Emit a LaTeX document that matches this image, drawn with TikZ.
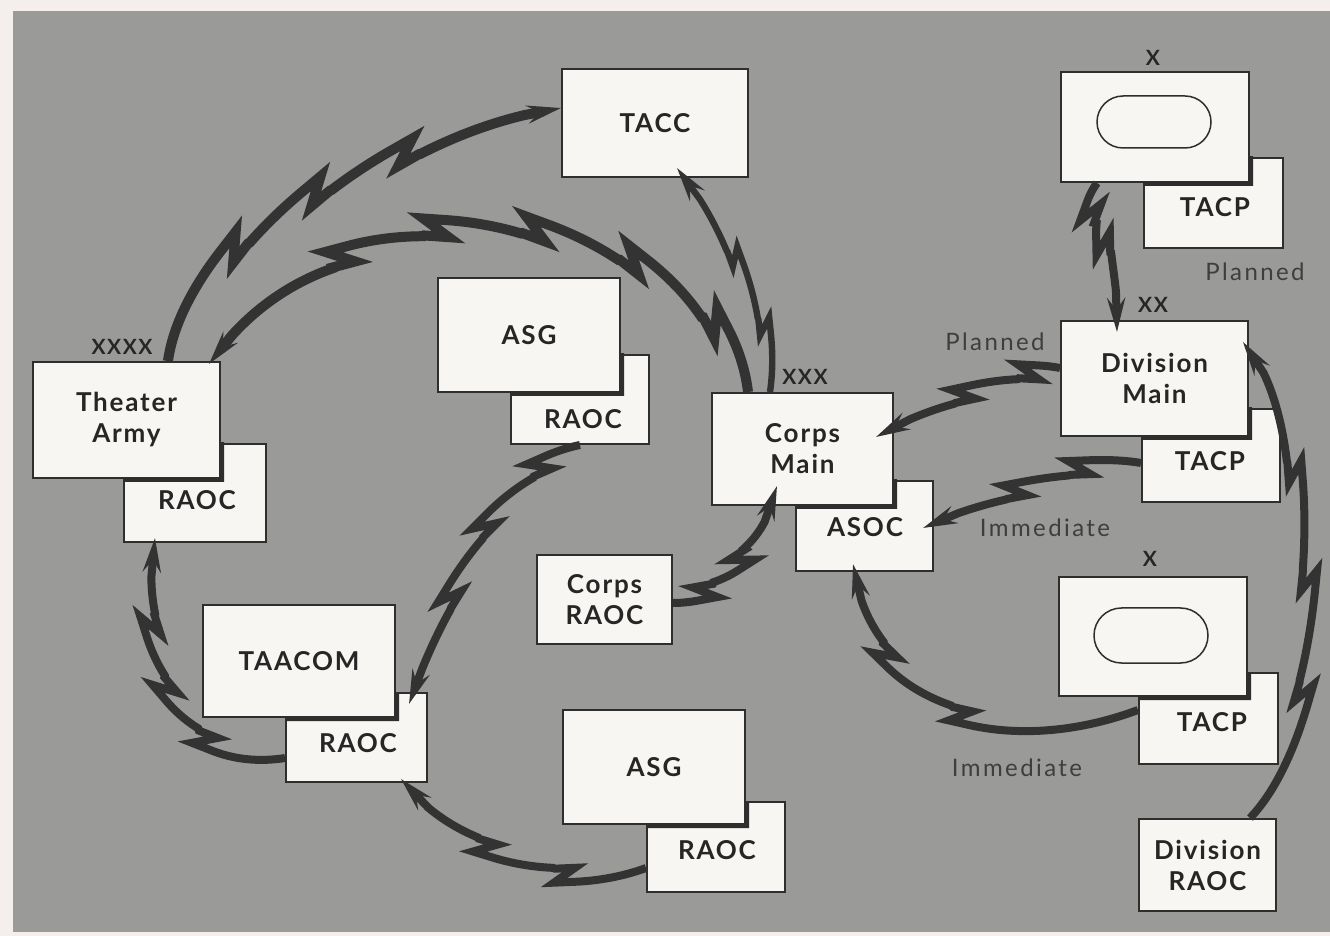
\documentclass[tikz,border=0pt]{standalone}
\usepackage{fontspec}
\setmainfont{Lato}
\newfontfamily\boxfont{Lato}[LetterSpace=7]
\newfontfamily\notefont{Lato}[LetterSpace=10]
\usetikzlibrary{decorations,arrows.meta,calc,shapes.misc}

\definecolor{outer}{HTML}{F4EFEC}
\definecolor{field}{HTML}{9A9A98}
\definecolor{boxfill}{HTML}{F8F6F2}
\definecolor{boxline}{HTML}{2E2E2E}
\definecolor{wire}{HTML}{333333}
\definecolor{ink}{HTML}{262626}
\definecolor{soft}{HTML}{3E3E3E}

% Lightning link: the stroke follows the curve at a lateral offset that
% jumps by \boltO at each break (toward the inside of the bend, side=+1 is
% to the left) and drifts back slowly, so it starts and ends on the curve.
\def\boltA{10pt}\def\boltO{7pt}
\def\boltside{1}\def\boltbreaks{2}\def\boltfirst{0.33}\def\boltgap{0.33}
\def\boltthr#1{((\boltbreaks>#1-0.5) ? (\pgfdecoratedpathlength*(1-\boltfirst-(#1-1)*\boltgap)+\boltA) : (-1pt))}
\def\boltoff#1#2{(\boltside)*\boltO*((#1)-\boltbreaks*(#2)/\pgfdecoratedpathlength)}
\def\boltwalk#1{\pgfpathlineto{\pgfpoint{1pt}{\boltoff{#1}{\pgfdecoratedcompleteddistance+1pt}}}}
\def\boltzig#1{%
  \pgfpathlineto{\pgfpoint{\boltA}{\boltoff{#1}{\pgfdecoratedcompleteddistance+\boltA}}}%
  \pgfpathlineto{\pgfpoint{0pt}{\boltoff{#1+1}{\pgfdecoratedcompleteddistance}}}%
  \pgfpathlineto{\pgfpoint{\boltA}{\boltoff{#1+1}{\pgfdecoratedcompleteddistance+\boltA}}}}

\pgfdeclaredecoration{bolt}{w1}{%
  \state{w1}[switch if less than=20pt to tail, switch if less than=(\boltthr{1}) to z1, width=1pt, next state=w1]{\boltwalk{0}}
  \state{z1}[width=\boltA, next state=w2]{\boltzig{0}}
  \state{w2}[switch if less than=20pt to tail, switch if less than=(\boltthr{2}) to z2, width=1pt, next state=w2]{\boltwalk{1}}
  \state{z2}[width=\boltA, next state=w3]{\boltzig{1}}
  \state{w3}[switch if less than=20pt to tail, switch if less than=(\boltthr{3}) to z3, width=1pt, next state=w3]{\boltwalk{2}}
  \state{z3}[width=\boltA, next state=w4]{\boltzig{2}}
  \state{w4}[switch if less than=20pt to tail, switch if less than=(\boltthr{4}) to z4, width=1pt, next state=w4]{\boltwalk{3}}
  \state{z4}[width=\boltA, next state=w5]{\boltzig{3}}
  \state{w5}[switch if less than=20pt to tail, switch if less than=(\boltthr{5}) to z5, width=1pt, next state=w5]{\boltwalk{4}}
  \state{z5}[width=\boltA, next state=w6]{\boltzig{4}}
  \state{w6}[switch if less than=20pt to tail, width=1pt, next state=w6]{\boltwalk{5}}
  \state{tail}[width=1000pt]{}
  \state{final}{\pgfpathlineto{\pgfpointdecoratedpathlast}}
}

\newcommand\overlapshadow[2]{%
  \begin{scope}
    \clip (#2.south west) rectangle (#2.north east);
    \fill[boxline, even odd rule]
      ([shift={(1.5pt,-1.5pt)}]#1.south west) rectangle ([shift={(1.5pt,-1.5pt)}]#1.north east)
      (#1.south west) rectangle (#1.north east);
  \end{scope}}

\tikzset{
  box/.style={draw=boxline, fill=boxfill, line width=1pt, inner sep=0pt, align=center,
    text=ink, font=\boxfont\bfseries\fontsize{13pt}{15.5pt}\selectfont},
  txt/.style={inner sep=0pt, align=center, text=ink, font=\boxfont\bfseries\fontsize{13pt}{15.5pt}\selectfont},
  ech/.style={inner sep=0pt, text=ink, font=\boxfont\bfseries\fontsize{10.5pt}{12pt}\selectfont},
  note/.style={inner sep=0pt, text=soft, font=\notefont\fontsize{12pt}{15pt}\selectfont},
  oval/.style={draw=boxline, line width=0.75pt, rounded rectangle, inner sep=0pt, minimum width=57pt, minimum height=26pt},
  radio/.style={draw=wire, line width=4pt, line join=miter, miter limit=8,
    decorate, decoration=bolt, -{Stealth[length=17pt,width=9pt,inset=6pt]}},
  heavy/.style={line width=5pt, zig={12pt}{8.5pt}},
  light/.style={line width=3.2pt, zig={8pt}{5.5pt}},
  zig/.code 2 args={\def\boltA{#1}\def\boltO{#2}},
  breaks/.code n args={3}{\def\boltbreaks{#1}\def\boltfirst{#2}\def\boltgap{#3}},
  lbend/.code={\def\boltside{1}},
  rbend/.code={\def\boltside{-1}},
}

\begin{document}
\begin{tikzpicture}[x=0.5pt, y=-0.5pt]
% sheet and grey field
\fill[outer] (0,0) rectangle (1330,936);
\fill[field] (13,11) rectangle (1330,932);
\useasboundingbox (0,0) rectangle (1330,936);

% TACC
\node[box, minimum width=93pt, minimum height=54pt] (tacc) at (655,123) {TACC};

% Theater Army with its RAOC
\node[box, minimum width=71pt, minimum height=49pt] (taraoc) at (195,493) {};
\node[box, minimum width=93.5pt, minimum height=58pt] (ta) at (126.5,420) {Theater\\Army};
\overlapshadow{ta}{taraoc}
\node[txt] (taraoct) at (197,500) {RAOC};
\node[ech] (e4) at (122,347) {XXXX};

% ASG (upper) with its RAOC
\node[box, minimum width=69pt, minimum height=44.5pt] (asgraoc) at (580,399.5) {};
\node[box, minimum width=91pt, minimum height=57pt] (asg) at (529,335) {ASG};
\overlapshadow{asg}{asgraoc}
\node[txt] (asgraoct) at (583,419) {RAOC};

% Corps RAOC
\node[box, minimum width=67.5pt, minimum height=44.5pt] (craoc) at (604.5,599.5) {Corps\\RAOC};

% Corps Main with ASOC
\node[box, minimum width=68.5pt, minimum height=45pt] (asoc) at (864.5,526) {};
\node[box, minimum width=90.5pt, minimum height=56pt] (cm) at (802.5,449) {Corps\\Main};
\overlapshadow{cm}{asoc}
\node[txt] (asoct) at (865,527) {ASOC};
\node[ech] (e3) at (805,377) {XXX};

% Division Main with TACP
\node[box, minimum width=69pt, minimum height=46.5pt] (dmtacp) at (1211,455.5) {};
\node[box, minimum width=93.5pt, minimum height=57.5pt] (dm) at (1154.5,378.5) {Division\\Main};
\overlapshadow{dm}{dmtacp}
\node[txt] (dmtacpt) at (1210,461) {TACP};
\node[ech] (e2) at (1153,305) {XX};

% upper brigade with TACP
\node[box, minimum width=69.5pt, minimum height=45pt] (x1tacp) at (1213.5,203) {};
\node[box, minimum width=94pt, minimum height=55pt] (x1) at (1155,127) {};
\overlapshadow{x1}{x1tacp}
\node[oval] (x1o) at (1154,122) {};
\node[txt] (x1tacpt) at (1215,207) {TACP};
\node[ech] (e1a) at (1153,58) {X};

% lower brigade with TACP
\node[box, minimum width=69.5pt, minimum height=45.5pt] (x2tacp) at (1208.5,718.5) {};
\node[box, minimum width=94pt, minimum height=59.5pt] (x2) at (1153,636.5) {};
\overlapshadow{x2}{x2tacp}
\node[oval, minimum height=27.5pt] (x2o) at (1151,635.5) {};
\node[txt] (x2tacpt) at (1212,722) {TACP};
\node[ech] (e1b) at (1150,559) {X};

% Division RAOC
\node[box, minimum width=68.5pt, minimum height=46pt] (draoc) at (1207.5,865) {Division\\RAOC};

% TAACOM with its RAOC
\node[box, minimum width=70.5pt, minimum height=44.5pt] (taacomraoc) at (356.5,737.5) {};
\node[box, minimum width=96pt, minimum height=56pt] (taacom) at (299,661) {TAACOM};
\overlapshadow{taacom}{taacomraoc}
\node[txt] (taacomraoct) at (358,743) {RAOC};

% ASG (lower) with its RAOC
\node[box, minimum width=69pt, minimum height=45pt] (asg2raoc) at (716,847) {};
\node[box, minimum width=91pt, minimum height=57pt] (asg2) at (654,767) {ASG};
\overlapshadow{asg2}{asg2raoc}
\node[txt] (asg2raoct) at (717,850) {RAOC};

% precedence notes
\node[note] (pl1) at (995,342) {Planned};
\node[note] (pl2) at (1255,272) {Planned};
\node[note] (im1) at (1045,528) {Immediate};
\node[note] (im2) at (1017,768) {Immediate};

% radio links
\draw[radio, heavy, rbend, breaks={3}{0.29}{0.2}] ([xshift=20.75pt]ta.north) .. controls (195,250) and (380,115) .. ([yshift=7.5pt]tacc.west);
\draw[radio, heavy, lbend, breaks={5}{0.13}{0.155}] ([xshift=-27.25pt]cm.north) .. controls (700,200) and (330,130) .. ([shift={(-6pt,-1.5pt)}]ta.north east);
\draw[radio, light, lbend, breaks={2}{0.29}{0.31}] ([xshift=-16.25pt]cm.north) .. controls (775,300) and (720,210) .. ([shift={(11pt,5pt)}]tacc.south);
\draw[radio, lbend, breaks={3}{0.17}{0.25}] (asgraoc.south) .. controls (480,480) and (430,600) .. ([shift={(-9.5pt,-6pt)}]taacomraoc.north east);
\draw[radio, rbend, breaks={3}{0.3}{0.215}] ([yshift=-10.25pt]taacomraoc.west) .. controls (170,760) and (120,640) .. ([shift={(-20pt,2.5pt)}]taraoc.south);
\draw[radio, rbend, breaks={2}{0.33}{0.3}] ([yshift=-10.5pt]asg2raoc.west) .. controls (560,890) and (450,860) .. ([shift={(-13.5pt,2pt)}]taacomraoc.south east);
\draw[radio, lbend, breaks={2}{0.25}{0.3}] ([yshift=-1.75pt]craoc.east) .. controls (720,595) and (775,560) .. ([shift={(-12.75pt,10pt)}]cm.south);
\draw[radio, lbend, breaks={2}{0.2}{0.35}] ([yshift=5.25pt]dm.west) .. controls (1000,365) and (920,400) .. ([shift={(-9pt,6pt)}]cm.east);
\draw[radio, lbend, breaks={2}{0.31}{0.29}] ([yshift=-3.75pt]dmtacp.west) .. controls (1080,460) and (980,490) .. ([shift={(-5.5pt,-1pt)}]asoc.east);
\draw[radio, rbend, breaks={2}{0.5}{0.26}] ([yshift=4.25pt]x2tacp.west) .. controls (1000,750) and (860,700) .. ([shift={(-5.75pt,4pt)}]asoc.south);
\draw[radio, lbend, breaks={3}{0.29}{0.22}] ([xshift=21.25pt]draoc.north) .. controls (1330,720) and (1330,420) .. ([shift={(-3pt,-11pt)}]dm.north east);
\draw[radio, lbend, breaks={2}{0.26}{0.22}] ([xshift=-29pt]x1.south) .. controls (1075,230) and (1110,270) .. ([shift={(-18.75pt,-6pt)}]dm.north);
\end{tikzpicture}
\end{document}
